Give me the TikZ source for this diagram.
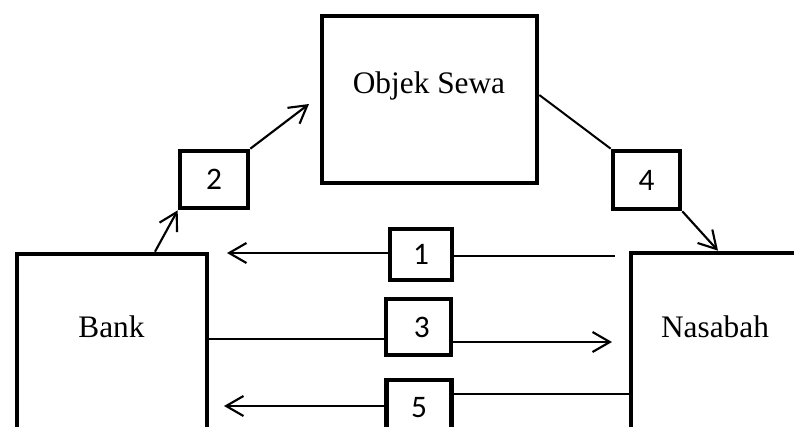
\documentclass[tikz,border=0pt]{standalone}
\usepackage{fontspec}
\setmainfont{Liberation Serif}
\newfontfamily\numfont{Carlito}
\usetikzlibrary{arrows.meta}

\tikzset{
  party/.style={draw, line width=3.5pt, minimum width=#1, inner sep=0pt},
  numbox/.style={draw, line width=3.5pt, inner sep=0pt, font=\numfont\fontsize{23.5}{27}\selectfont},
  caption/.style={font=\fontsize{23.5}{28}\selectfont, anchor=base, inner sep=0pt},
  ln/.style={line width=1.5pt},
  arr/.style={line width=1.6pt, -{Straight Barb[length=13pt, width=15pt, line width=1.6pt]}}
}

\begin{document}
\begin{tikzpicture}[x=0.75pt, y=-0.75pt]
\useasboundingbox (0,0) rectangle (794,426);
\clip (0,0) rectangle (794,426);

% three parties
\node[party=161.25pt, minimum height=125.25pt] (objek) at (429.5,99.5) {};
\node[party=142.5pt, minimum height=229.5pt] (bank) at (112,407) {};
\node[party=201.75pt, minimum height=230.25pt] (nasabah) at (765.5,406.5) {};
\node[caption] (objekText) at (429,93.5) {Objek Sewa};
\node[caption] (bankText) at (111.5,337) {Bank};
\node[caption] (nasabahText) at (715,337) {Nasabah};

% numbered steps
\node[numbox, minimum width=46.5pt, minimum height=38.25pt] (b1) at (421,254.5) {1};
\node[numbox, minimum width=51pt, minimum height=42.75pt] (b2) at (214,179.5) {2};
\node[numbox, minimum width=48.75pt, minimum height=42pt] (b3) at (418.5,327) {\hspace*{5pt}3};
\node[numbox, minimum width=50.25pt, minimum height=43.5pt] (b4) at (646.5,180) {4};
\node[numbox, minimum width=48.75pt, minimum height=42pt] (b5) at (419,408) {5};

% free ends of the connectors
\coordinate (e1r) at (615,256);
\coordinate (e1l) at (227,253);
\coordinate (e2) at (309,104);
\coordinate (e3) at (612,342);
\coordinate (e5) at (224,406);

% step 1: Nasabah -> Bank
\draw[ln] (b1.east |- e1r) -- (e1r);
\draw[arr] (b1.west |- e1l) -- (e1l);

% step 2: Bank -> Objek Sewa
\draw[arr] (155,0 |- bank.north) -- (b2.south west);
\draw[arr] (b2.north east) -- (e2);

% step 3: Bank -> Nasabah
\draw[ln] (bank.east |- 0,339) -- (b3.west |- 0,339);
\draw[arr] (b3.east |- e3) -- (e3);

% step 4: Objek Sewa -> Nasabah
\draw[ln] (objek.east |- 0,95) -- (b4.north west);
\draw[arr] (b4.south east) -- (718,0 |- nasabah.north);

% step 5: Nasabah -> Bank
\draw[ln] (nasabah.west |- 0,394) -- (b5.east |- 0,394);
\draw[arr] (b5.west |- e5) -- (e5);
\end{tikzpicture}
\end{document}
